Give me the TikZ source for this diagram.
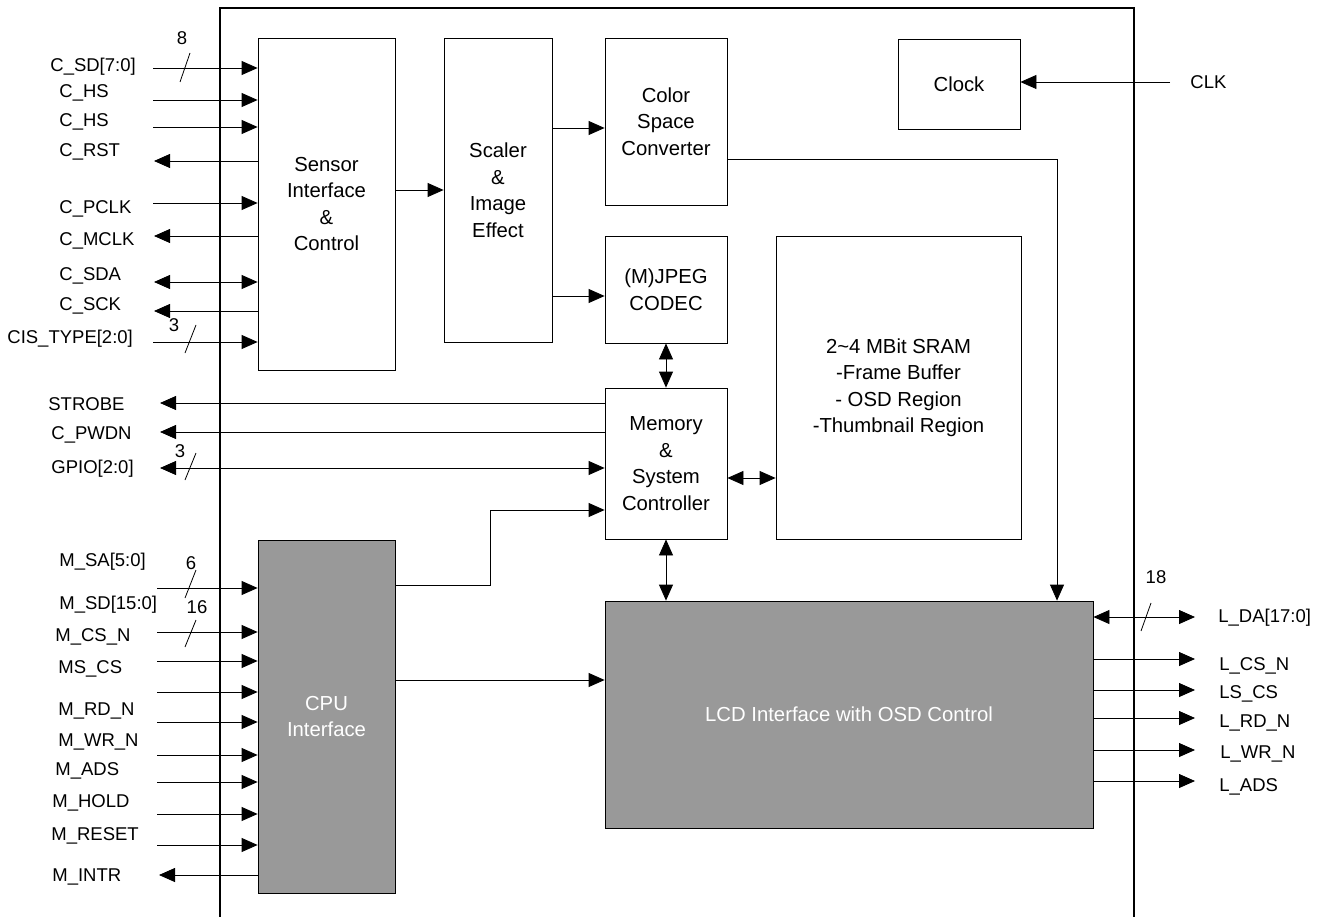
\documentclass[tikz,border=0pt]{standalone}
\usepackage{fontspec}
\setmainfont{Liberation Sans}
\usepackage{tikz}
\usetikzlibrary{arrows.meta}
\definecolor{blockgray}{RGB}{153,153,153}

\begin{document}
\begin{tikzpicture}[x=1pt,y=-1pt,>={Triangle[length=16pt,width=14pt]},line width=0.8pt]
  \tikzstyle{block}=[draw=black,inner sep=0pt,align=center,font=\fontsize{20.3}{26.5}\selectfont]
  \tikzstyle{dark}=[block,fill=blockgray,text=white]
  \tikzstyle{sig}=[anchor=west,inner sep=0pt,text height=13pt,text depth=0pt,font=\fontsize{18.5}{20}\selectfont]
  \tikzstyle{bus}=[inner sep=0pt,font=\fontsize{18.5}{20}\selectfont]
\useasboundingbox (0,0) rectangle (1324,917);
% chip outline
\draw[line width=2.5pt] (220,917) -- (220,8) -- (1134,8) -- (1134,917);
% blocks
\node[block,minimum width=137pt,minimum height=332pt] (sic) at (326.5,204) {Sensor\\Interface\\\&\\Control};
\node[block,minimum width=108pt,minimum height=304pt] (scl) at (498,190) {Scaler\\\&\\Image\\Effect};
\node[block,minimum width=122pt,minimum height=167pt] (csc) at (666,121.5) {Color\\Space\\Converter};
\node[block,minimum width=122pt,minimum height=90pt] (clock) at (959,84) {Clock};
\node[block,minimum width=122pt,minimum height=107pt] (jpg) at (666,289.5) {(M)JPEG\\CODEC};
\node[block,minimum width=122pt,minimum height=151pt] (msc) at (666,463.5) {Memory\\\&\\System\\Controller};
\node[block,minimum width=245pt,minimum height=303pt] (sram) at (898.5,387.5) {2\textasciitilde4 MBit SRAM\\-Frame Buffer\\- OSD Region\\-Thumbnail Region};
\node[dark,minimum width=137pt,minimum height=353pt] (cpu) at (326.5,716.5) {CPU\\Interface};
\node[dark,minimum width=488pt,minimum height=227pt] (lcd) at (849,714.5) {LCD Interface with OSD Control};
% internal paths
\draw[->] (sic.east |- scl.center) -- (scl.west);
\draw[->] (scl.east |- 0,128) -- (csc.west |- 0,128);
\draw[->] (scl.east |- 0,296) -- (jpg.west |- 0,296);
\draw[<->] (jpg.south) -- (msc.north);
\draw[<->] (msc.east |- 0,478) -- (sram.west |- 0,478);
\draw[<->] (msc.south) -- (msc.south |- lcd.north);
\draw[->] (csc.east |- 0,159) -| (lcd.north -| 1057,0);
\draw[->] (cpu.east |- 0,585) -- (490,585) |- (msc.west |- 0,510);
\draw[->] (cpu.east |- 0,680) -- (lcd.west |- 0,680);
% sensor port
\node[sig] (l_csd) at (50,65) {C\_SD[7:0]};
\node[sig] (l_chs) at (59,91) {C\_HS};
\node[sig] (l_cvs) at (59,120) {C\_HS};
\node[sig] (l_crst) at (59,150) {C\_RST};
\node[sig] (l_cpclk) at (59,207) {C\_PCLK};
\node[sig] (l_cmclk) at (59,239) {C\_MCLK};
\node[sig] (l_csda) at (59,274) {C\_SDA};
\node[sig] (l_csck) at (59,304) {C\_SCK};
\node[sig] (l_cis) at (7,337) {CIS\_TYPE[2:0]};
\coordinate (csd) at (153,68);
\coordinate (chs) at (153,100);
\coordinate (cvs) at (153,127);
\coordinate (crst) at (154,161);
\coordinate (cpclk) at (153,203);
\coordinate (cmclk) at (154,236);
\coordinate (csda) at (154,282);
\coordinate (csck) at (154,311);
\coordinate (cis) at (153,342);
\draw[->] (csd) -- (csd -| sic.west);
\draw[->] (chs) -- (chs -| sic.west);
\draw[->] (cvs) -- (cvs -| sic.west);
\draw[<-] (crst) -- (crst -| sic.west);
\draw[->] (cpclk) -- (cpclk -| sic.west);
\draw[<-] (cmclk) -- (cmclk -| sic.west);
\draw[<->] (csda) -- (csda -| sic.west);
\draw[<-] (csck) -- (csck -| sic.west);
\draw[->] (cis) -- (cis -| sic.west);
\node[bus] (w_csd) at (182,38) {8};
\draw (190,53) -- (180,82);
\node[bus] (w_cis) at (174,325) {3};
\draw (196,325) -- (185,353);
% system port
\node[sig] (l_strb) at (48,404) {STROBE};
\node[sig] (l_pwdn) at (51,433) {C\_PWDN};
\node[sig] (l_gpio) at (51,467) {GPIO[2:0]};
\coordinate (strb) at (160,403);
\coordinate (pwdn) at (160,432);
\coordinate (gpio) at (160,468);
\draw[<-] (strb) -- (strb -| msc.west);
\draw[<-] (pwdn) -- (pwdn -| msc.west);
\draw[<->] (gpio) -- (gpio -| msc.west);
\node[bus] (w_gpio) at (180,451) {3};
\draw (196,453) -- (185,480);
% cpu port
\node[sig] (l_msa) at (59,560) {M\_SA[5:0]};
\node[sig] (l_msd) at (59,603) {M\_SD[15:0]};
\node[sig] (l_mcs) at (55,635) {M\_CS\_N};
\node[sig] (l_mscs) at (58,667) {MS\_CS};
\node[sig] (l_mrd) at (58,709) {M\_RD\_N};
\node[sig] (l_mwr) at (58,740) {M\_WR\_N};
\node[sig] (l_mads) at (55,769) {M\_ADS};
\node[sig] (l_mhold) at (52,801) {M\_HOLD};
\node[sig] (l_mrst) at (51,834) {M\_RESET};
\node[sig] (l_mintr) at (52,875) {M\_INTR};
\coordinate (msa) at (157,588);
\coordinate (msd) at (157,632);
\coordinate (mcs) at (157,661);
\coordinate (mscs) at (157,692);
\coordinate (mrd) at (157,722);
\coordinate (mwr) at (157,755);
\coordinate (mads) at (157,782);
\coordinate (mhold) at (157,814);
\coordinate (mrst) at (157,845);
\coordinate (mintr) at (159,875);
\draw[->] (msa) -- (msa -| cpu.west);
\draw[->] (msd) -- (msd -| cpu.west);
\draw[->] (mcs) -- (mcs -| cpu.west);
\draw[->] (mscs) -- (mscs -| cpu.west);
\draw[->] (mrd) -- (mrd -| cpu.west);
\draw[->] (mwr) -- (mwr -| cpu.west);
\draw[->] (mads) -- (mads -| cpu.west);
\draw[->] (mhold) -- (mhold -| cpu.west);
\draw[->] (mrst) -- (mrst -| cpu.west);
\draw[<-] (mintr) -- (mintr -| cpu.west);
\node[bus] (w_msa) at (191,563) {6};
\draw (196,570) -- (185,598);
\node[bus] (w_msd) at (197,607) {16};
\draw (196,620) -- (185,647);
% clock
\node[sig] (l_clk) at (1190,82) {CLK};
\coordinate (clk) at (1170,82);
\draw[->] (clk) -- (clk -| clock.east);
% lcd port
\node[sig] (l_lda) at (1218,616) {L\_DA[17:0]};
\node[sig] (l_lcs) at (1219,664) {L\_CS\_N};
\node[sig] (l_lscs) at (1219,692) {LS\_CS};
\node[sig] (l_lrd) at (1219,721) {L\_RD\_N};
\node[sig] (l_lwr) at (1220,752) {L\_WR\_N};
\node[sig] (l_lads) at (1219,785) {L\_ADS};
\coordinate (lda) at (1195,617);
\coordinate (lcs) at (1195,659);
\coordinate (lscs) at (1195,690);
\coordinate (lrd) at (1195,718);
\coordinate (lwr) at (1195,750);
\coordinate (lads) at (1195,781);
\draw[<->] (lda -| lcd.east) -- (lda);
\draw[->] (lcs -| lcd.east) -- (lcs);
\draw[->] (lscs -| lcd.east) -- (lscs);
\draw[->] (lrd -| lcd.east) -- (lrd);
\draw[->] (lwr -| lcd.east) -- (lwr);
\draw[->] (lads -| lcd.east) -- (lads);
\node[bus] (w_lda) at (1156,577) {18};
\draw (1151,603) -- (1141,631);
\end{tikzpicture}
\end{document}
